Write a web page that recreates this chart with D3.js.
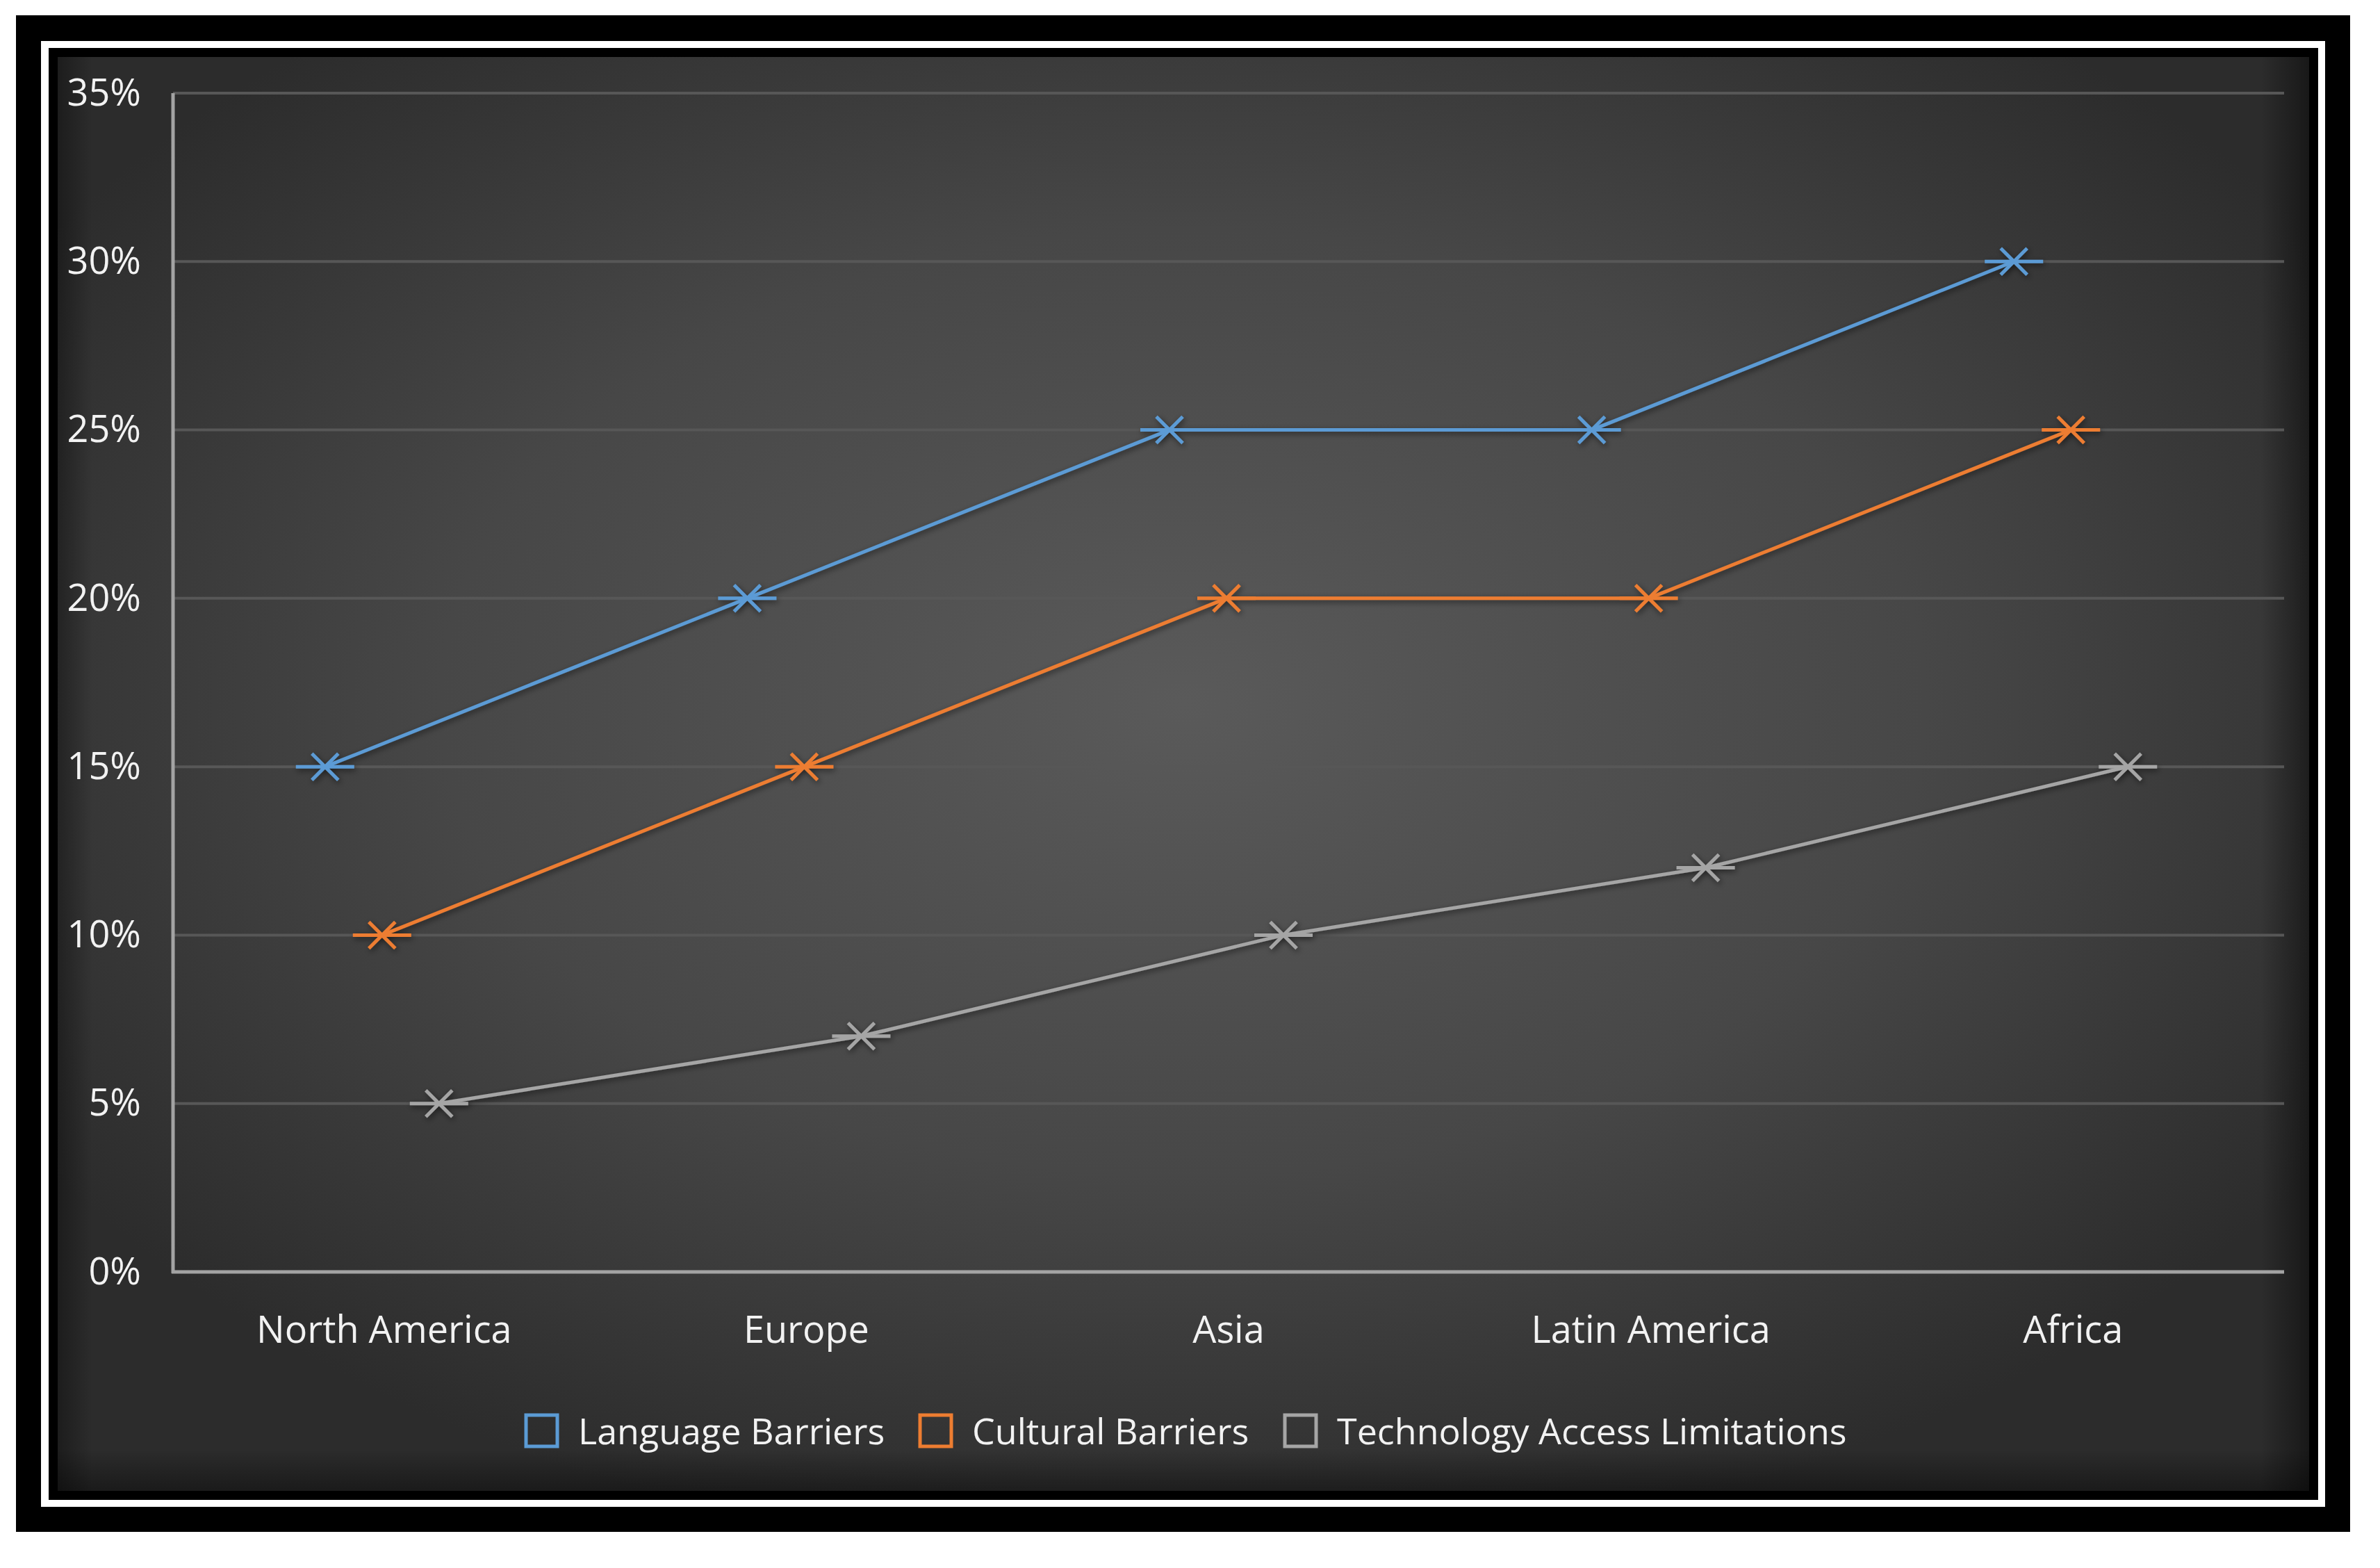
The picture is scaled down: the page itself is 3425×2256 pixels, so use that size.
<!DOCTYPE html>
<html><head><meta charset="utf-8">
<script src="https://cdn.jsdelivr.net/npm/d3@7/dist/d3.min.js"></script>
<style>html,body{margin:0;padding:0;background:#fff;}svg{display:block;}</style>
</head><body>
<script>
const categories = ["North America", "Europe", "Asia", "Latin America", "Africa"];
const seriesNames = ["Language Barriers", "Cultural Barriers", "Technology Access Limitations"];
const languageBarriers = [0.15, 0.20, 0.25, 0.25, 0.30];
const culturalBarriers = [0.10, 0.15, 0.20, 0.20, 0.25];
const technologyAccess = [0.05, 0.07, 0.10, 0.12, 0.15];
const yTicks = [0, 0.05, 0.10, 0.15, 0.20, 0.25, 0.30, 0.35];
const colors = ["#5B9BD5", "#ED7D31", "#A5A5A5"];

const seriesValues = [languageBarriers, culturalBarriers, technologyAccess];
const W = 3425, H = 2256;
const FONT = "'Open Sans', 'Noto Sans', sans-serif";

const svg = d3.select("body").append("svg").attr("width", W).attr("height", H);
const defs = svg.append("defs");
const rg = defs.append("radialGradient").attr("id", "bg")
  .attr("cx", "50%").attr("cy", "45%").attr("r", "60%");
rg.append("stop").attr("offset", "0%").attr("stop-color", "#5a5a5a");
rg.append("stop").attr("offset", "55%").attr("stop-color", "#474747");
rg.append("stop").attr("offset", "100%").attr("stop-color", "#2c2c2c");

const f = defs.append("filter").attr("id", "shadow").attr("x", "-20%").attr("y", "-20%").attr("width", "140%").attr("height", "140%");
f.append("feDropShadow").attr("dx", 2).attr("dy", 3).attr("stdDeviation", 4)
  .attr("flood-color", "#000").attr("flood-opacity", 0.55);

const vg = defs.append("linearGradient").attr("id", "vr").attr("x1", "0").attr("x2", "1").attr("y1", "0").attr("y2", "0");
vg.append("stop").attr("offset", "0%").attr("stop-color", "#000").attr("stop-opacity", 0);
vg.append("stop").attr("offset", "100%").attr("stop-color", "#000").attr("stop-opacity", 0.45);
const vl = defs.append("linearGradient").attr("id", "vl").attr("x1", "1").attr("x2", "0").attr("y1", "0").attr("y2", "0");
vl.append("stop").attr("offset", "0%").attr("stop-color", "#000").attr("stop-opacity", 0);
vl.append("stop").attr("offset", "100%").attr("stop-color", "#000").attr("stop-opacity", 0.35);
const vb = defs.append("linearGradient").attr("id", "vb").attr("x1", "0").attr("x2", "0").attr("y1", "0").attr("y2", "1");
vb.append("stop").attr("offset", "0%").attr("stop-color", "#000").attr("stop-opacity", 0);
vb.append("stop").attr("offset", "100%").attr("stop-color", "#000").attr("stop-opacity", 0.4);

// frames
svg.append("rect").attr("x", 0).attr("y", 0).attr("width", W).attr("height", H).attr("fill", "#fff");
svg.append("rect").attr("x", 23).attr("y", 22).attr("width", 3359).attr("height", 2182).attr("fill", "#000");
svg.append("rect").attr("x", 59).attr("y", 59).attr("width", 3287).attr("height", 2109).attr("fill", "#fff");
svg.append("rect").attr("x", 70).attr("y", 69).attr("width", 3266).attr("height", 2089).attr("fill", "#000");
const area = {x: 83, y: 82, w: 3240, h: 2063};
svg.append("rect").attr("x", area.x).attr("y", area.y).attr("width", area.w).attr("height", area.h).attr("fill", "url(#bg)");
svg.append("rect").attr("x", area.x + area.w - 70).attr("y", area.y).attr("width", 70).attr("height", area.h).attr("fill", "url(#vr)");
svg.append("rect").attr("x", area.x).attr("y", area.y).attr("width", 50).attr("height", area.h).attr("fill", "url(#vl)");
svg.append("rect").attr("x", area.x).attr("y", area.y + area.h - 60).attr("width", area.w).attr("height", 60).attr("fill", "url(#vb)");

// scales
const x0 = d3.scaleBand().domain(categories).range([249, 3287]).padding(0);
const xs = d3.scalePoint().domain(seriesNames).range([-85, 79]);
const y = d3.scaleLinear().domain([0, 0.35]).range([1830, 134]);

// gridlines
svg.append("g").selectAll("line").data(yTicks.filter(d => d > 0)).join("line")
  .attr("x1", 249).attr("x2", 3287)
  .attr("y1", d => y(d)).attr("y2", d => y(d))
  .attr("stroke", "#575757").attr("stroke-width", 4);

// y axis
const yAxis = d3.axisLeft(y).tickValues(yTicks).tickFormat(d3.format(".0%")).tickSize(0).tickPadding(46);
const gy = svg.append("g").attr("transform", "translate(249,0)").call(yAxis);
gy.select(".domain").remove();
gy.selectAll("text").attr("font-family", FONT).attr("font-size", 54).attr("fill", "#f2f2f2");

// x axis
const xAxis = d3.axisBottom(x0).tickSize(0).tickPadding(64);
const gx = svg.append("g").attr("transform", "translate(0,1830)").call(xAxis);
gx.select(".domain").remove();
gx.selectAll("text").attr("font-family", FONT).attr("font-size", 54).attr("fill", "#f2f2f2");

// axis lines
svg.append("line").attr("x1", 249).attr("x2", 249).attr("y1", y(0.35)).attr("y2", y(0) + 2)
  .attr("stroke", "#a3a3a3").attr("stroke-width", 5);
svg.append("line").attr("x1", 247).attr("x2", 3287).attr("y1", y(0)).attr("y2", y(0))
  .attr("stroke", "#a3a3a3").attr("stroke-width", 5);

// series
const markerPath = (cx, cy) => {
  const a = 19, h = 42;
  return `M${cx - a},${cy - a}L${cx + a},${cy + a}M${cx - a},${cy + a}L${cx + a},${cy - a}M${cx - h},${cy}L${cx + h},${cy}`;
};
seriesNames.forEach((name, si) => {
  const vals = seriesValues[si];
  const pts = categories.map((c, i) => [x0(c) + x0.bandwidth() / 2 + xs(name), y(vals[i])]);
  const g = svg.append("g").attr("filter", "url(#shadow)");
  g.append("path").attr("d", d3.line()(pts)).attr("fill", "none")
    .attr("stroke", colors[si]).attr("stroke-width", 5).attr("stroke-linejoin", "round");
  g.selectAll("path.m").data(pts).join("path").attr("class", "m")
    .attr("d", p => markerPath(p[0], p[1]))
    .attr("stroke", colors[si]).attr("stroke-width", 5).attr("fill", "none");
});

// legend
const legend = svg.append("g").attr("font-family", FONT).attr("font-size", 52).attr("fill", "#f2f2f2");
const boxStarts = [754, 1321, 1846];
seriesNames.forEach((name, si) => {
  const gx0 = boxStarts[si];
  legend.append("rect").attr("x", gx0 + 3).attr("y", 2036).attr("width", 45).attr("height", 45)
    .attr("fill", "none").attr("stroke", colors[si]).attr("stroke-width", 5);
  legend.append("text").attr("x", gx0 + 78).attr("y", 2060).attr("dy", "0.35em").text(name);
});
</script>
</body></html>
